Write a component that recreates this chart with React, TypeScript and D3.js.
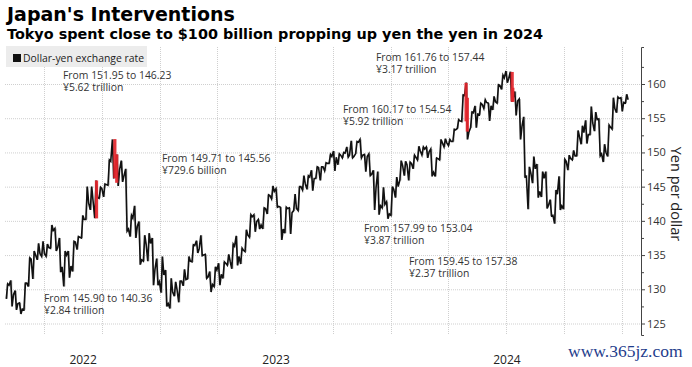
import React, { useEffect, useRef } from 'react';
import * as d3 from 'd3';

// weekly dollar-yen bars, week starting Monday 2 May 2022 up to 6 Jan 2025
const firstWeek = new Date(2022, 4, 2);
const lastWeek = new Date(2025, 0, 6);
const firstOpen = 130.2;

const weeklyHigh = [
  130.8, 131.3, 129.8, 128.0, 130.9,
  134.6, 135.6, 136.7, 137.0,
  136.6, 139.4, 138.9, 137.5,
  135.6, 135.6, 137.0, 137.7, 140.8,
  145.0, 145.0, 145.9, 144.9,
  145.4, 148.9, 151.9, 149.7, 148.8,
  147.6, 140.8, 142.2, 139.9,
  137.9, 138.2, 137.5, 134.5,
  134.8, 132.8, 131.6, 131.1, 131.2,
  132.9, 134.8, 136.5, 137.1,
  137.9, 135.1, 132.6, 133.3,
  133.8, 134.0, 135.1, 136.6,
  137.8, 136.0, 138.7, 140.9, 140.9,
  140.2, 141.9, 143.8, 145.1,
  144.7, 142.0, 142.0, 141.9, 143.9,
  145.0, 146.6, 146.6, 147.4,
  147.9, 147.9, 148.5, 149.7,
  150.2, 149.8, 150.0, 150.8, 151.7,
  151.6, 151.9, 149.7, 149.8,
  147.4, 147.2, 144.9, 142.8,
  145.0, 146.4, 148.8, 148.7, 148.6,
  149.6, 150.9, 150.8, 150.8,
  150.5, 149.2, 151.9, 152.0,
  151.9, 153.4, 154.8, 158.4, 160.2,
  155.9, 156.8, 157.2, 157.7,
  157.2, 158.2, 159.9, 161.3,
  161.9, 161.8, 158.9, 157.8, 155.2,
  147.9, 149.4, 148.3, 147.2,
  147.2, 143.1, 144.5, 146.5, 149.0,
  149.6, 150.3, 153.2, 153.9,
  154.7, 156.7, 155.9, 154.9,
  151.2, 154.0, 158.0, 158.1, 158.0,
  158.5,
];

const weeklyLow = [
  128.6, 127.5, 127.0, 126.4, 127.0,
  130.4, 131.5, 134.3, 134.8,
  134.8, 136.0, 135.6, 132.5,
  130.4, 131.7, 132.6, 135.8, 137.5,
  140.2, 141.6, 140.4, 143.3,
  143.5, 145.2, 146.2, 145.1, 145.7,
  138.5, 137.7, 137.5, 133.6,
  134.1, 134.1, 130.6, 130.6,
  129.5, 127.5, 127.2, 129.0, 128.1,
  130.5, 131.5, 134.0, 135.3,
  134.9, 131.6, 129.6, 130.4,
  130.6, 131.6, 133.5, 133.0,
  133.5, 133.7, 135.5, 137.6, 138.4,
  138.8, 138.8, 141.0, 143.2,
  142.0, 137.2, 138.2, 138.1, 141.5,
  141.5, 144.5, 144.6, 144.4,
  146.2, 145.9, 147.3, 148.4,
  147.3, 148.2, 149.2, 149.3, 149.2,
  149.8, 149.2, 147.2, 146.6,
  141.6, 140.9, 141.9, 140.3,
  140.8, 143.4, 145.9, 146.6, 145.9,
  147.6, 148.9, 149.6, 149.2,
  146.5, 146.5, 148.9, 150.8,
  151.0, 151.6, 153.5, 154.5, 151.9,
  153.6, 153.6, 155.5, 156.4,
  154.6, 156.2, 157.2, 159.2,
  160.2, 157.4, 155.4, 151.9, 146.4,
  141.7, 145.5, 143.4, 143.5,
  141.8, 140.7, 139.6, 141.6, 141.7,
  147.4, 148.9, 149.5, 151.2,
  151.3, 152.6, 153.1, 149.5,
  148.6, 149.4, 153.4, 155.8, 156.0,
  157.2,
];

const weeklyClose = [
  130.6, 129.2, 127.9, 127.1, 130.9,
  134.4, 135.0, 135.2, 135.2,
  136.1, 138.6, 136.1, 133.3,
  135.0, 133.4, 136.9, 137.6, 140.2,
  142.6, 142.9, 143.4, 144.7,
  145.3, 148.7, 147.7, 147.5, 146.6,
  138.8, 140.4, 139.2, 134.3,
  136.6, 136.7, 132.9, 131.1,
  132.1, 127.9, 129.6, 129.9, 131.2,
  131.4, 134.1, 136.4, 135.9,
  135.0, 131.8, 130.7, 132.8,
  132.2, 133.8, 134.1, 136.3,
  134.8, 135.7, 137.9, 140.6, 139.9,
  139.4, 141.8, 143.7, 144.3,
  142.1, 138.8, 141.8, 141.2, 141.8,
  145.0, 145.4, 146.4, 146.2,
  147.8, 147.9, 148.4, 149.4,
  149.3, 149.6, 149.9, 149.6, 149.4,
  151.5, 149.6, 149.4, 146.8,
  144.9, 142.2, 142.4, 141.0,
  144.6, 145.0, 148.1, 148.2, 148.4,
  149.3, 150.2, 150.5, 150.1,
  147.1, 149.1, 151.4, 151.4,
  151.6, 153.3, 154.6, 158.3, 153.0,
  155.8, 155.6, 157.0, 157.3,
  156.8, 157.4, 159.8, 160.9,
  160.8, 157.9, 157.5, 153.8, 146.5,
  147.0, 147.6, 144.3, 146.2,
  142.3, 140.8, 143.9, 142.2, 148.7,
  149.1, 149.5, 152.3, 152.9,
  152.6, 154.3, 154.8, 149.8,
  150.0, 153.7, 156.4, 157.9, 157.3,
  157.7,
];

// interventions
const interventionDates = ['2022-09-22', '2022-10-21', '2022-10-24', '2024-04-29', '2024-05-01', '2024-07-11', '2024-07-12'];
const interventionFrom = [145.9, 151.95, 149.71, 160.17, 157.99, 161.76, 159.45];
const interventionTo = [140.36, 146.23, 145.56, 154.54, 153.04, 157.44, 157.38];
const interventionAmount = ['¥2.84 trillion', '¥5.62 trillion', '¥729.6 billion', '¥5.92 trillion', '¥3.87 trillion', '¥3.17 trillion', '¥2.37 trillion'];

// where each annotation sits (left x, first baseline)
const annotationPos = [[44, 301.5], [63, 78.5], [162, 161.5], [343, 112.5], [364, 231.5], [376, 60.5], [409, 264.5]];

const yTicks = [125, 130, 135, 140, 145, 150, 155, 160];
const yMinorTicks = [127.5, 132.5, 137.5, 142.5, 147.5, 152.5, 157.5, 162.5];
const yearLabels = ['2022', '2023', '2024'];

const W = 692;
const H = 367;
const plotLeft = 5;
const plotRight = 641;
const plotTop = 47;
const plotBottom = 335;
const font = '"Open Sans", sans-serif';

const App = () => {
  const ref = useRef<SVGSVGElement>(null);

  useEffect(() => {
    const svg = d3.select(ref.current);
    svg.selectAll('*').remove();

    const x = d3.scaleTime()
      .domain([new Date(2022, 6, 1), new Date(2025, 0, 1)])
      .range([44, 622]);
    const yBase = d3.scaleLinear().domain([125, 160]).range([323.5, 84]);
    const y = d3.scaleLinear()
      .domain([yBase.invert(plotBottom), yBase.invert(plotTop)])
      .range([plotBottom, plotTop]);

    svg.append('rect').attr('width', W).attr('height', H).attr('fill', '#fff');

    // gridlines
    const grid = svg.append('g').attr('stroke', '#cfcfcf').attr('stroke-dasharray', '1,1');
    grid.selectAll('line.h')
      .data(yTicks)
      .enter().append('line')
      .attr('x1', plotLeft).attr('x2', plotRight)
      .attr('y1', d => y(d) + 0.5).attr('y2', d => y(d) + 0.5);
    const quarters = d3.timeMonth.every(3)!.range(x.invert(plotLeft), x.invert(plotRight));
    grid.selectAll('line.v')
      .data(quarters)
      .enter().append('line')
      .attr('x1', d => Math.round(x(d)) + 0.5).attr('x2', d => Math.round(x(d)) + 0.5)
      .attr('y1', plotTop).attr('y2', plotBottom);

    // legend
    svg.append('rect').attr('x', 6).attr('y', 46).attr('width', 141).attr('height', 21).attr('fill', '#ececec');
    svg.append('rect').attr('x', 13).attr('y', 54).attr('width', 8).attr('height', 8).attr('fill', '#111');
    svg.append('text').attr('x', 23).attr('y', 61.5)
      .attr('font-family', font).attr('font-size', 10.4).attr('fill', '#222')
      .text('Dollar-yen exchange rate');

    // price path built from the weekly bars
    const weeks = d3.timeMonday.range(firstWeek, d3.timeDay.offset(lastWeek, 1));
    const pts: [Date, number][] = [];
    let open = firstOpen;
    weeks.forEach((d, i) => {
      const hi = weeklyHigh[i];
      const lo = weeklyLow[i];
      const cl = weeklyClose[i];
      const up = cl >= open;
      pts.push([d3.timeHour.offset(d, 6), up ? lo : hi]);
      pts.push([d3.timeHour.offset(d, 62), up ? hi : lo]);
      pts.push([d3.timeHour.offset(d, 112), cl]);
      open = cl;
    });

    svg.append('g')
      .selectAll('line')
      .data(weeks)
      .enter().append('line')
      .attr('x1', d => x(d3.timeHour.offset(d, 40)))
      .attr('x2', d => x(d3.timeHour.offset(d, 40)))
      .attr('y1', (_, i) => y(weeklyHigh[i]))
      .attr('y2', (_, i) => y(weeklyLow[i]))
      .attr('stroke', '#a8a8a8')
      .attr('stroke-width', 1.4);

    const line = d3.line<[Date, number]>().x(d => x(d[0])).y(d => y(d[1])).curve(d3.curveLinear);
    svg.append('path')
      .attr('d', line(pts))
      .attr('fill', 'none')
      .attr('stroke', '#111')
      .attr('stroke-width', 1.6)
      .attr('stroke-linejoin', 'miter');

    // intervention bars
    const parse = d3.timeParse('%Y-%m-%d');
    svg.append('g')
      .selectAll('rect')
      .data(interventionDates)
      .enter().append('rect')
      .attr('x', d => x(parse(d)!) - 1.5)
      .attr('width', 3.2)
      .attr('y', (_, i) => y(interventionFrom[i]))
      .attr('height', (_, i) => y(interventionTo[i]) - y(interventionFrom[i]))
      .attr('fill', '#e3262d')
      .attr('opacity', 0.92);

    // annotations
    const ann = svg.append('g').attr('font-family', font).attr('font-size', 10.4).attr('fill', '#333');
    interventionDates.forEach((_, i) => {
      const [ax, ay] = annotationPos[i];
      ann.append('text').attr('x', ax).attr('y', ay)
        .text(`From ${interventionFrom[i].toFixed(2)} to ${interventionTo[i].toFixed(2)}`);
      ann.append('text').attr('x', ax).attr('y', ay + 12).text(interventionAmount[i]);
    });

    // y axis
    const yAxis = svg.append('g')
      .attr('transform', `translate(${plotRight},0)`)
      .call(d3.axisRight(y).tickValues(yTicks).tickSize(4).tickSizeOuter(3).tickPadding(2).tickFormat(d3.format('d')));
    yAxis.selectAll('path, line').attr('stroke', '#444');
    yAxis.selectAll('text').attr('font-family', font).attr('font-size', 11).attr('fill', '#333');

    const yMinor = svg.append('g')
      .attr('transform', `translate(${plotRight},0)`)
      .call(d3.axisRight(y).tickValues(yMinorTicks).tickSize(3).tickFormat(() => ''));
    yMinor.select('.domain').remove();
    yMinor.selectAll('line').attr('stroke', '#444');

    svg.append('text')
      .attr('transform', `translate(671,${(plotTop + plotBottom) / 2 + 3}) rotate(90)`)
      .attr('text-anchor', 'middle')
      .attr('font-family', font).attr('font-size', 14.5).attr('fill', '#222')
      .text('Yen per dollar');

    // x axis: year labels centred in the visible part of each year
    const start = x.invert(plotLeft);
    const end = x.invert(plotRight);
    const yearCentres = yearLabels.map(yr => {
      const a = d3.max([new Date(+yr, 0, 1), start])!;
      const b = d3.min([new Date(+yr + 1, 0, 1), end])!;
      return new Date((+a + +b) / 2);
    });
    const xAxis = svg.append('g')
      .attr('transform', 'translate(0,352.5)')
      .call(d3.axisBottom(x).tickValues(yearCentres).tickSize(0).tickPadding(3).tickFormat(d3.timeFormat('%Y') as any));
    xAxis.select('.domain').remove();
    xAxis.selectAll('text').attr('font-family', font).attr('font-size', 12).attr('fill', '#222');

    // titles
    svg.append('text').attr('x', 7).attr('y', 21)
      .attr('font-family', '"DejaVu Sans", sans-serif').attr('font-weight', 'bold').attr('font-size', 19).attr('fill', '#000')
      .text("Japan's Interventions");
    svg.append('text').attr('x', 7).attr('y', 38.5)
      .attr('font-family', '"DejaVu Sans", sans-serif').attr('font-weight', 'bold').attr('font-size', 14.4).attr('fill', '#000')
      .text('Tokyo spent close to $100 billion propping up yen the yen in 2024');

    svg.append('text').attr('x', 568).attr('y', 357)
      .attr('font-family', '"Liberation Serif", serif').attr('font-size', 17.5).attr('fill', '#1f3d8c')
      .text('www.365jz.com');
  }, []);

  return (
    <svg ref={ref} width={W} height={H} style={{ position: 'absolute', left: 0, top: 0, display: 'block' }} />
  );
};

export default App;
